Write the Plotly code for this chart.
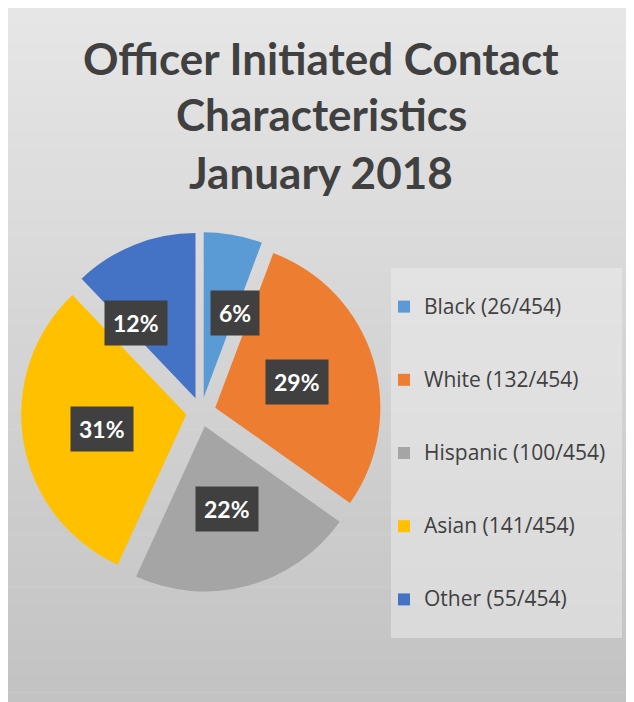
import math
import plotly.graph_objects as go

groups = ["Black", "White", "Hispanic", "Asian", "Other"]
counts = [26, 132, 100, 141, 55]
colors = ["#5B9BD5", "#ED7D31", "#A5A5A5", "#FFC000", "#4472C4"]
title_lines = ["Officer Initiated Contact", "Characteristics", "January 2018"]

W, H = 634, 702
OFF = 8  # page body margin: the figure is drawn 8px in from the window corner
total = sum(counts)
pull = 0.09

# legend labels padded with blank lines so the items sit further apart;
# the visible line is drawn a little larger than the line spacing font
labels = ["<br><span style='font-size:21px'>%s (%d/%d)</span><br> " % (g, c, total)
          for g, c in zip(groups, counts)]

# pie domain, in window pixels
dom_x = [21, 381]
dom_y = [232, 592]  # from top


def px(x):
    return (x - OFF) / W


def py(y):
    return 1 - (y - OFF) / H


fig = go.Figure()

# background with a soft vertical gradient
n_bands = 40
top_c, bot_c = (0xE6, 0xE6, 0xE6), (0xC3, 0xC3, 0xC3)
for i in range(n_bands):
    t = i / (n_bands - 1)
    c = tuple(int(a + (b - a) * t) for a, b in zip(top_c, bot_c))
    fig.add_shape(type="rect", xref="paper", yref="paper",
                  x0=0, x1=1, y0=1 - (i + 1.02) / n_bands, y1=1 - i / n_bands,
                  fillcolor="rgb(%d,%d,%d)" % c, line_width=0, layer="below")

# legend box
fig.add_shape(type="rect", xref="paper", yref="paper",
              x0=px(391), x1=px(622), y0=py(638), y1=py(268),
              fillcolor="rgba(238,238,238,0.5)", line_width=0, layer="below")

fig.add_trace(go.Pie(
    labels=labels,
    values=counts,
    marker=dict(colors=colors, line=dict(width=0)),
    sort=False,
    direction="clockwise",
    rotation=0,
    pull=pull,
    textinfo="none",
    hoverinfo="label+percent",
    domain=dict(x=[px(dom_x[0]), px(dom_x[1])], y=[py(dom_y[1]), py(dom_y[0])]),
))

# percentage labels in dark boxes, placed along each slice's mid angle
cx = (dom_x[0] + dom_x[1]) / 2
cy = (dom_y[0] + dom_y[1]) / 2
r = (dom_x[1] - dom_x[0]) / (2 + 2 * pull)
nudges = [(16, 0), (0, 0), (0, 0), (0, 0), (-28, -5)]
cum = 0
for c, (dx, dy) in zip(counts, nudges):
    mid = (cum + c / 2) / total * 2 * math.pi
    cum += c
    ox = cx + pull * r * math.sin(mid)
    oy = cy - pull * r * math.cos(mid)
    lx = ox + 0.52 * r * math.sin(mid)
    ly = oy - 0.52 * r * math.cos(mid)
    fig.add_annotation(
        x=px(lx), y=py(ly), xref="paper", yref="paper",
        xanchor="center", yanchor="middle",
        text="<b>%d%%</b>" % round(100 * c / total),
        showarrow=False, xshift=dx, yshift=dy,
        font=dict(family="Lato, Open Sans, sans-serif", size=23, color="white"),
        bgcolor="#404040", borderpad=8,
    )

# title, one annotation per line to get the wide line spacing
for line, y in zip(title_lines, [58, 114, 172]):
    fig.add_annotation(
        x=px(321), y=py(y), xref="paper", yref="paper",
        xanchor="center", yanchor="middle", showarrow=False,
        text="<b>%s</b>" % line,
        font=dict(family="Lato, Open Sans, sans-serif", size=44, color="#404040"),
    )

fig.update_layout(
    width=W, height=H,
    margin=dict(l=0, r=0, t=0, b=0),
    paper_bgcolor="#e6e6e6",
    showlegend=True,
    legend=dict(
        x=px(384), y=py(265), xanchor="left", yanchor="top",
        bgcolor="rgba(0,0,0,0)",
        font=dict(family="Open Sans, sans-serif", size=18, color="#404040"),
        traceorder="normal",
    ),
)

fig.write_html("out.html")
